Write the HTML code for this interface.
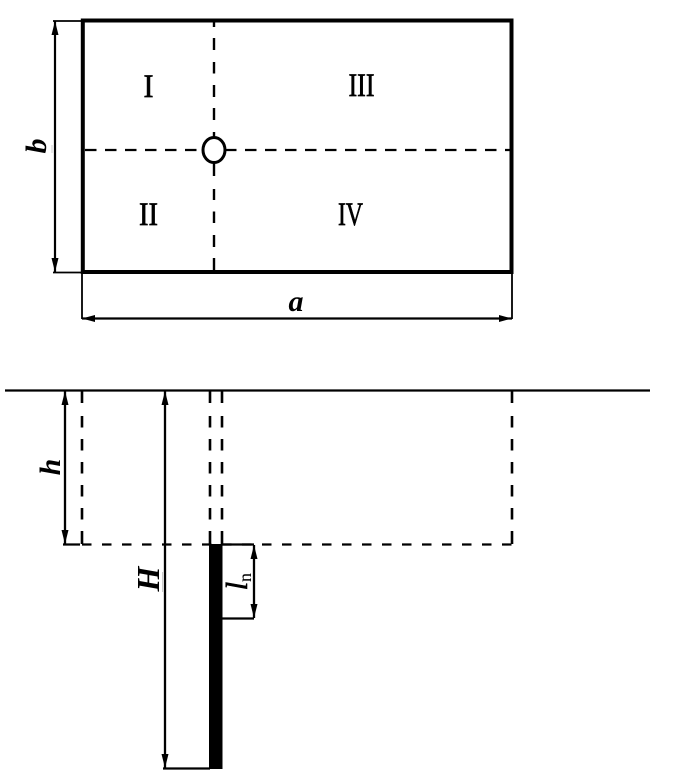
<!DOCTYPE html>
<html><head><meta charset="utf-8"><style>html,body{margin:0;padding:0;background:#fff}svg{display:block}text{font-family:"Liberation Serif",serif;fill:#000}.r{font-size:33px;text-anchor:middle;stroke:#000;stroke-width:.7}.v{font-size:30px;font-weight:bold;font-style:italic;text-anchor:middle}</style></head><body>
<svg width="700" height="782" viewBox="0 0 700 782" xmlns="http://www.w3.org/2000/svg">
<g fill="none" stroke="#000">
<path d="M214 22V27M214 38V50M214 62V73.500M214 85V97M214 108V120M214 132V176M214 189V200M214 211.500V223M214 235V247M214 258V272" stroke-width="2.4"/>
<path d="M85 150H511" stroke-width="2.200" stroke-dasharray="11.500 8.500"/>
<rect x="82.800" y="20.500" width="428.700" height="251.500" stroke-width="4"/>
<ellipse cx="214" cy="150" rx="11" ry="12.500" fill="#fff" stroke-width="3"/>
<path d="M53 21H82M53 272.500H82M82 272V319M512 272V319" stroke-width="1.800"/>
<path d="M55 21V272M82 318.500H512" stroke-width="2.200"/>
<path d="M5 390.500H650" stroke-width="2.300"/>
<path d="M65 391V544.500M165 391V768M254 545V618M63 544.500H80M222 544.500H254M222 618.500H254M163 768.500H210" stroke-width="2.300"/>
<path id="d" d="M82 391V403M82 416V427.500M82 439V450.500M82 462V473.500M82 485V496.500M82 508V519.500M82 531V544M210 391V403M210 416V427.500M210 439V450.500M210 462V473.500M210 485V496.500M210 508V519.500M210 531V544M222 391V403M222 416V427.500M222 439V450.500M222 462V473.500M222 485V496.500M222 508V519.500M222 531V544M512 391V403M512 416V427.500M512 439V450.500M512 462V473.500M512 485V496.500M512 508V519.500M512 531V544" stroke-width="2.600"/>
<path d="M82 544.500H512" stroke-width="2.200" stroke-dasharray="9.500 10.500"/>
<path d="M162.500 572V592M52 145V153" stroke="#ccc" stroke-width="1"/>
</g>
<g fill="#000">
<rect x="209" y="544" width="13.500" height="225"/>
<path d="M55 21l-3.500 14h7zM55 272l-3.500-14h7zM82 318.500l13-3.500v7zM512 318.500l-13-3.500v7zM65 391l-3.500 14h7zM65 544l-3.500-14h7zM165 391l-3.500 14h7zM165 768l-3.500-14h7zM254 545l-3.500 14h7zM254 618l-3.500-14h7z"/>
</g>
<text class="r" x="148.500" y="97" textLength="10" lengthAdjust="spacingAndGlyphs">I</text>
<text class="r" x="148.500" y="225" textLength="19" lengthAdjust="spacingAndGlyphs">II</text>
<text class="r" x="361.500" y="96" textLength="26" lengthAdjust="spacingAndGlyphs">III</text>
<text class="r" x="350.500" y="225" textLength="25" lengthAdjust="spacingAndGlyphs">IV</text>
<text class="v" x="296" y="311">a</text>
<text class="v" transform="translate(46 146) rotate(-90)">b</text>
<text class="v" transform="translate(60 467) rotate(-90)">h</text>
<text class="v" style="font-size:32px" transform="translate(159 579) rotate(-90)">H</text>
<text style="font-size:31px;font-style:italic;text-anchor:middle;stroke:#000;stroke-width:.6" transform="translate(247 586) rotate(-90)">l</text>
<text style="font-size:18px;text-anchor:middle" transform="translate(251 577.500) rotate(-90)">n</text>
</svg>
</body></html>
